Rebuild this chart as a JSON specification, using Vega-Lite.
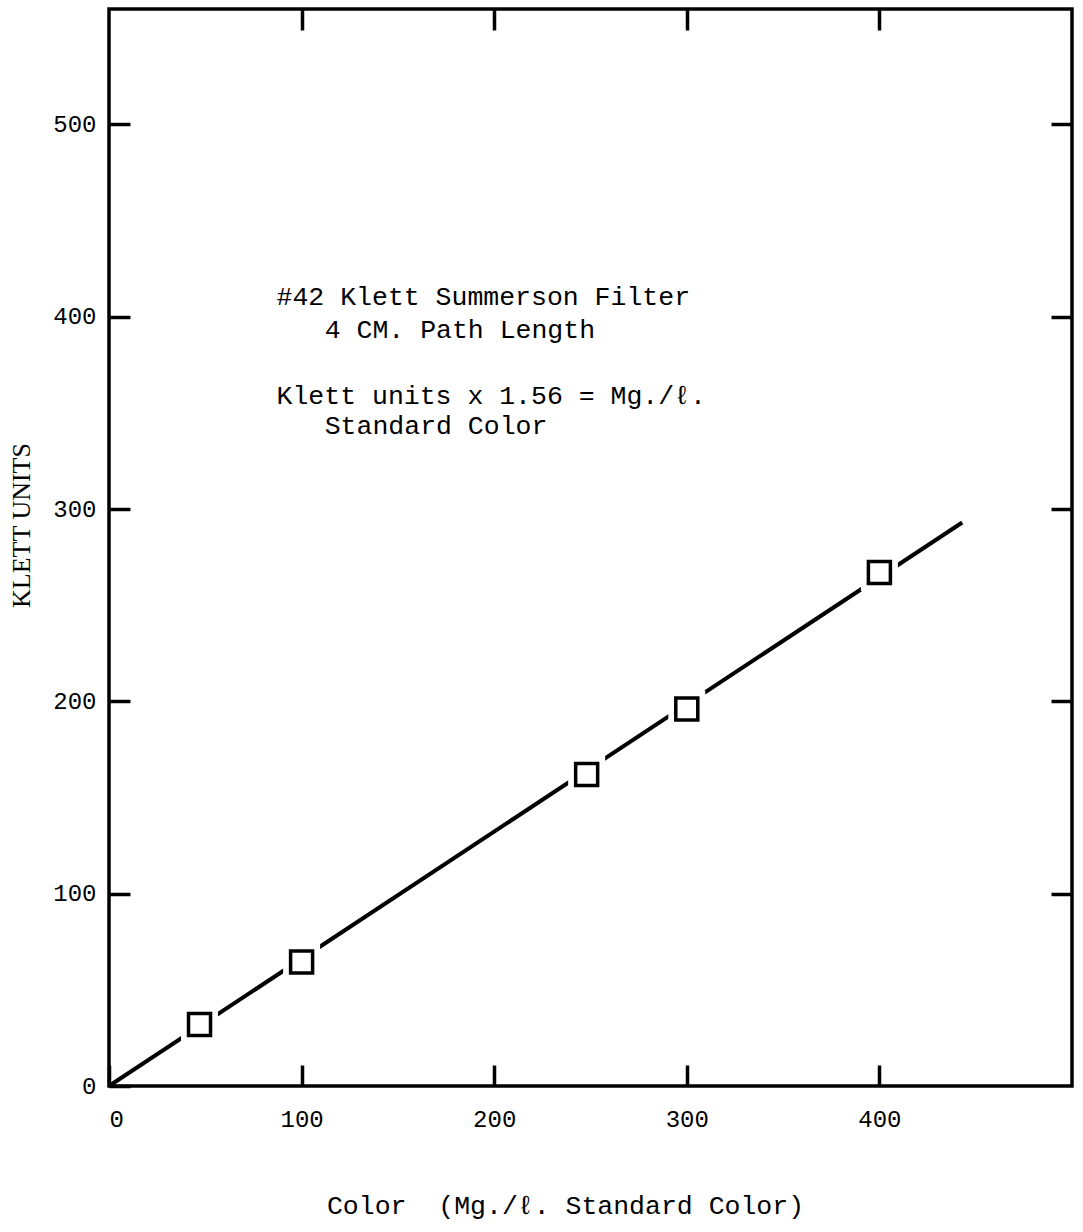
{
  "$schema": "https://vega.github.io/schema/vega-lite/v6.json",
  "autosize": {"type": "none"},
  "padding": {"left": 109, "top": 9, "right": 11, "bottom": 146},
  "width": 963,
  "height": 1077,
  "background": "white",
  "config": {
    "view": {"stroke": "black", "strokeWidth": 3.5},
    "axis": {
      "domain": false,
      "grid": false,
      "tickColor": "black",
      "tickWidth": 3.5,
      "tickSize": -21,
      "labelColor": "black",
      "labelFont": "Liberation Mono",
      "labelFontSize": 24,
      "titleColor": "black",
      "titleFontWeight": "normal"
    }
  },
  "datasets": {
    "fit": [
      {"color": 0, "klett": 0},
      {"color": 443, "klett": 293}
    ],
    "standards": [
      {"color": 47, "klett": 32},
      {"color": 100, "klett": 64.5},
      {"color": 248, "klett": 162},
      {"color": 300, "klett": 196},
      {"color": 400, "klett": 267}
    ],
    "notes": [
      {"line": "#42 Klett Summerson Filter", "indent": 87, "level": 410},
      {"line": "4 CM. Path Length", "indent": 112, "level": 393},
      {"line": "Klett units x 1.56 = Mg./ℓ.", "indent": 87, "level": 359},
      {"line": "Standard Color", "indent": 112, "level": 343}
    ]
  },
  "layer": [
    {
      "data": {"name": "fit"},
      "mark": {"type": "line", "color": "black", "strokeWidth": 4},
      "encoding": {
        "x": {
          "field": "color",
          "type": "quantitative",
          "scale": {"domain": [0, 500], "nice": false},
          "axis": {
            "orient": "bottom",
            "values": [0, 100, 200, 300, 400],
            "labelPadding": 42,
            "title": "Color\u00a0\u00a0(Mg./ℓ. Standard Color)",
            "titleFont": "Liberation Mono",
            "titleFontSize": 26.5,
            "titleX": 456,
            "titleY": 119,
            "titleBaseline": "middle",
            "titleAlign": "center"
          }
        },
        "y": {
          "field": "klett",
          "type": "quantitative",
          "scale": {"domain": [0, 560], "nice": false},
          "axis": {
            "orient": "left",
            "values": [0, 100, 200, 300, 400, 500],
            "labelPadding": 34,
            "title": "KLETT UNITS",
            "titleFont": "Liberation Serif",
            "titleFontSize": 26,
            "titleX": -88,
            "titleY": 516,
            "titleAngle": -90,
            "titleBaseline": "middle",
            "titleAlign": "center"
          }
        }
      }
    },
    {
      "data": {"name": "standards"},
      "mark": {"type": "point", "shape": "square", "filled": true, "color": "white", "opacity": 1, "size": 1369},
      "encoding": {
        "x": {
          "field": "color",
          "type": "quantitative",
          "axis": {"orient": "top", "values": [100, 200, 300, 400], "labels": false, "title": null}
        },
        "y": {
          "field": "klett",
          "type": "quantitative",
          "axis": {"orient": "right", "values": [100, 200, 300, 400, 500], "labels": false, "title": null}
        }
      }
    },
    {
      "data": {"name": "standards"},
      "mark": {"type": "point", "shape": "square", "filled": false, "stroke": "black", "strokeWidth": 3.5, "opacity": 1, "size": 484},
      "encoding": {
        "x": {"field": "color", "type": "quantitative", "axis": null},
        "y": {"field": "klett", "type": "quantitative", "axis": null}
      }
    },
    {
      "data": {"name": "notes"},
      "mark": {"type": "text", "align": "left", "baseline": "middle", "font": "Liberation Mono", "fontSize": 26.5, "color": "black"},
      "encoding": {
        "x": {"field": "indent", "type": "quantitative", "axis": null},
        "y": {"field": "level", "type": "quantitative", "axis": null},
        "text": {"field": "line"}
      }
    }
  ],
  "resolve": {"axis": {"x": "independent", "y": "independent"}}
}
